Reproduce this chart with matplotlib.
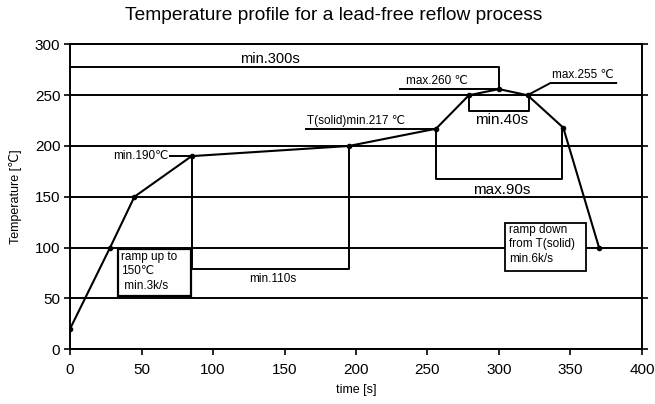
import matplotlib.pyplot as plt
import matplotlib.patches as mpatches

plt.rcParams['font.family'] = ['Liberation Sans', 'DejaVu Sans']

# reflow profile (time in s, temperature in C)
time_s = [0, 28, 45, 85, 195, 256, 279, 300, 320, 345, 370]
temp_c = [20, 100, 150, 190, 200, 217, 250, 256, 250, 218, 100]

x_ticks = [0, 50, 100, 150, 200, 250, 300, 350, 400]
y_ticks = [0, 50, 100, 150, 200, 250, 300]

# bracket / leader lines (x list, y list)
br_300s = ([0, 300, 300], [278, 278, 256])
br_110s = ([85, 85, 195, 195], [190, 79, 79, 200])
br_40s = ([279, 279, 321, 321], [250, 234, 234, 250])
br_90s = ([256, 256, 344, 344], [217, 167, 167, 218])
ld_190 = ([70, 85], [190, 190])
ld_217 = ([165, 256], [217, 217])
ld_260 = ([231, 300], [256, 256])
ld_255 = ([320, 336, 382], [250, 262, 262])

fig = plt.figure(figsize=(6.55, 4.04), dpi=100)
ax = fig.add_axes([0.107, 0.136, 0.873, 0.754])

ax.set_xlim(0, 400)
ax.set_ylim(0, 300)
ax.set_xticks(x_ticks)
ax.set_yticks(y_ticks)
ax.tick_params(direction='out', length=4, width=1.2, labelsize=11, right=True, pad=3)
ax.tick_params(axis='x', pad=6)
for s in ax.spines.values():
    s.set_linewidth(1.4)
ax.yaxis.grid(True, color='black', linewidth=1.4)
ax.set_axisbelow(True)

for xs, ys in [br_300s, br_110s, br_40s, br_90s, ld_190, ld_217, ld_260, ld_255]:
    ax.plot(xs, ys, color='black', lw=1.4)

ax.plot(time_s, temp_c, color='black', lw=1.5, marker='o', markersize=3)

ax.text(140, 286, 'min.300s', fontsize=10.5, ha='center', va='center')
ax.text(69, 190, 'min.190\u2103', fontsize=8.5, ha='right', va='center')
ax.text(166, 219, 'T(solid)min.217 \u2103', fontsize=8.5, ha='left', va='bottom')
ax.text(235, 258, 'max.260 \u2103', fontsize=8.5, ha='left', va='bottom')
ax.text(337, 264, 'max.255 \u2103', fontsize=8.5, ha='left', va='bottom')
ax.text(302, 226, 'min.40s', fontsize=11, ha='center', va='center')
ax.text(302, 157, 'max.90s', fontsize=11, ha='center', va='center')
ax.text(142, 69, 'min.110s', fontsize=8.5, ha='center', va='center')

ax.add_patch(mpatches.Rectangle((33.5, 52.5), 51, 46, facecolor='white',
                                edgecolor='black', lw=1.6, zorder=3))
ax.text(35.5, 97, 'ramp up to\n150\u2103\n min.3k/s', fontsize=8.5, ha='left', va='top',
        linespacing=1.3, zorder=4)
ax.add_patch(mpatches.Rectangle((304, 76.5), 57, 48, facecolor='white',
                                edgecolor='black', lw=1.3, zorder=3))
ax.text(307, 123.5, 'ramp down\nfrom T(solid)\nmin.6k/s', fontsize=8.5, ha='left', va='top',
        linespacing=1.3, zorder=4)

fig.text(334 / 655, 1 - 15 / 404, 'Temperature profile for a lead-free reflow process',
         fontsize=13.8, ha='center', va='center')
ax.set_xlabel('time [s]', fontsize=9, labelpad=5)
ax.set_ylabel('Temperature [\u2103]', fontsize=9, labelpad=9)

fig.savefig('out.png', dpi=100)
